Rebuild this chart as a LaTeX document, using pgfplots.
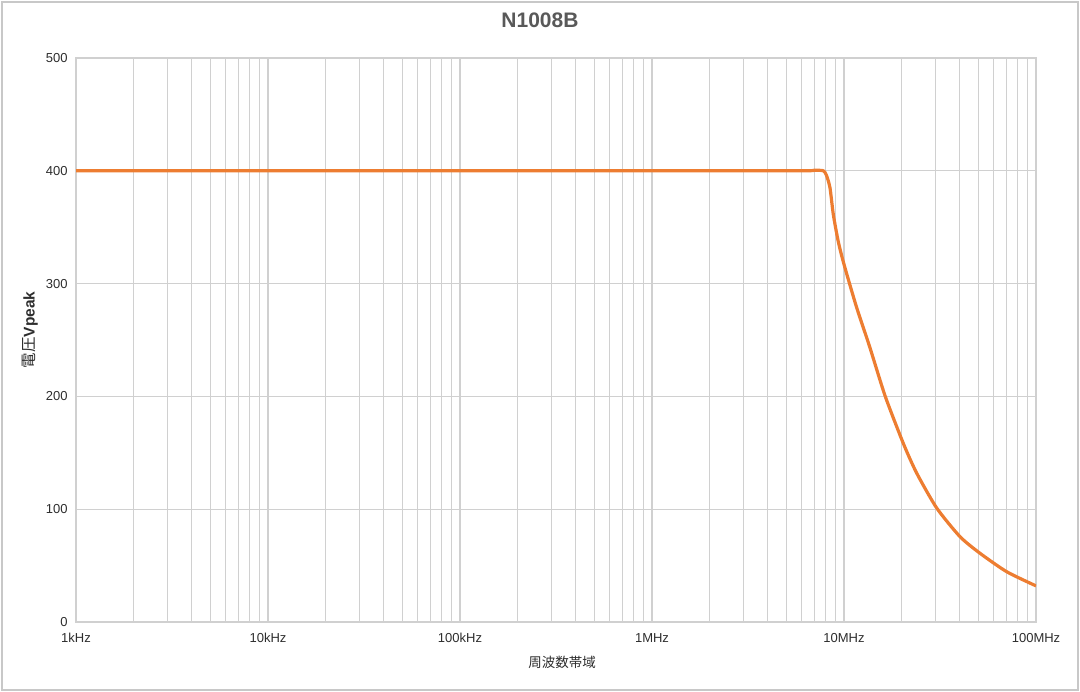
\documentclass[border=0pt]{standalone}
\usepackage{pgfplots}
\pgfplotsset{compat=1.18}
\usepackage{fontspec}
\setmainfont{Liberation Sans}
\newfontfamily\cjk{Noto Sans CJK JP}

\definecolor{gridgray}{RGB}{208,208,208}
\definecolor{framegray}{RGB}{200,200,200}
\definecolor{ticktext}{RGB}{45,45,45}
\definecolor{titletext}{RGB}{89,89,89}
\definecolor{lineorange}{RGB}{237,125,49}

\pgfplotstableread{
f v
1e3 400
1e4 400
1e5 400
1e6 400
6e6 400
7e6 400.5
7.8e6 400
8.1e6 396
8.45e6 385
8.8e6 361
9.34e6 337
1e7 317
1.16e7 279.5
1.36e7 244
1.64e7 200
2.04e7 158
2.39e7 132
3.04e7 101
4.02e7 75.6
5.1e7 61
7.03e7 44.6
1e8 32
}\voltdata

\begin{document}
\begin{tikzpicture}[x=1bp,y=1bp]
\useasboundingbox (0,0) rectangle (1080,692);
\draw[framegray, line width=2bp] (2,2) rectangle (1078,690);
\begin{axis}[
    at={(76bp,70bp)}, anchor=south west,
    scale only axis,
    width=960bp, height=564bp,
    xmode=log,
    xmin=1e3, xmax=1e8,
    ymin=0, ymax=500,
    xtick={1e3,1e4,1e5,1e6,1e7,1e8},
    xticklabels={1kHz,10kHz,100kHz,1MHz,10MHz,100MHz},
    ytick={0,100,200,300,400,500},
    xmajorgrids=true, xminorgrids=true, ymajorgrids=true,
    grid style={draw=gridgray, line width=1.1bp},
    minor grid style={draw=gridgray, line width=1.1bp},
    axis line style={draw=gridgray, line width=1.1bp},
    major tick length=0pt, minor tick length=0pt,
    /pgf/number format/assume math mode=true,
    ticklabel style={font=\fontsize{13bp}{15bp}\selectfont, text=ticktext},
    yticklabel style={xshift=-5bp},
    xticklabel style={yshift=-8bp},
]
\addplot[lineorange, line width=3.2bp, line join=round, smooth, tension=0.4] table[x=f, y=v] {\voltdata};
\end{axis}
\node[font=\bfseries\fontsize{21bp}{24bp}\selectfont, text=titletext] at (540,672) {N1008B};
\node[font=\fontsize{13.5bp}{16bp}\selectfont, text=ticktext] at (562,30) {\cjk 周波数帯域};
\node[rotate=90, font=\fontsize{15.5bp}{18bp}\selectfont, text=ticktext] at (30,362) {{\cjk 電圧}\textbf{Vpeak}};
\end{tikzpicture}
\end{document}
